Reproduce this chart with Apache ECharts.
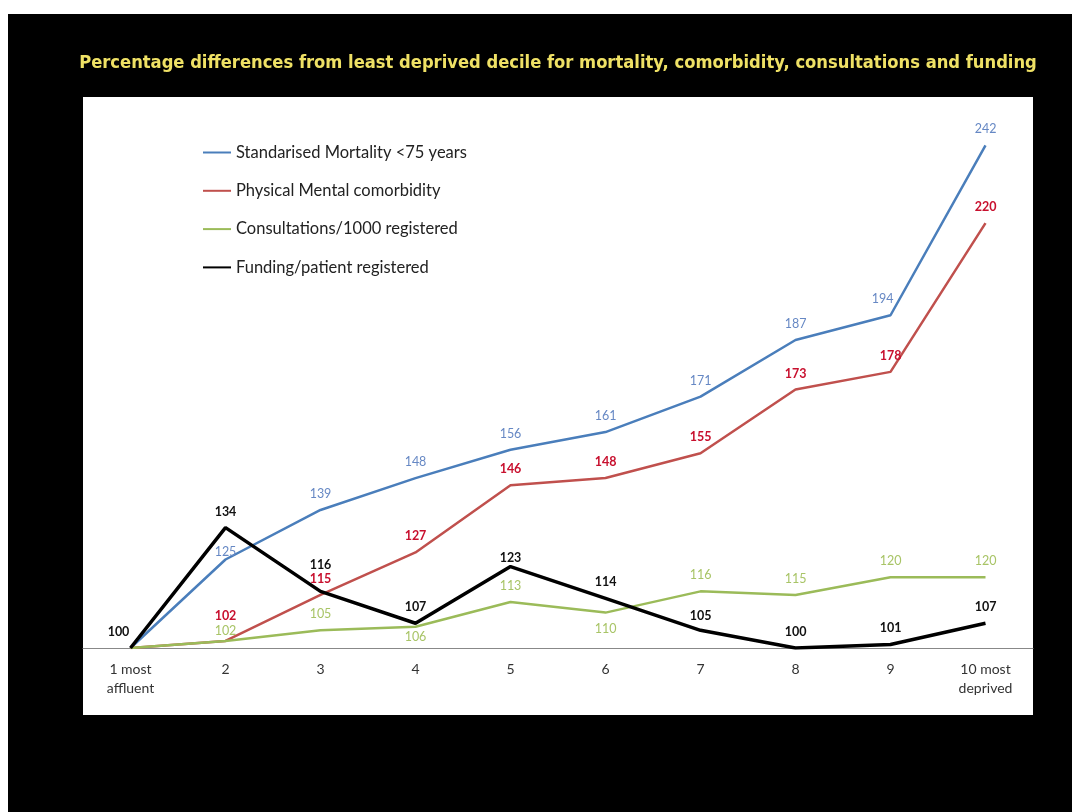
<!DOCTYPE html>
<html>
	<head>
		<meta charset="utf-8">
		<title></title>
		<style type="text/css">
			* {
				margin: 0;
				padding: 0;
			}

			#main {
				width: 1072px;
				height: 812px;
			}
		</style>
		<script src="https://cdn.jsdelivr.net/npm/echarts@6/dist/echarts.min.js"></script>
	</head>
	<body>
		<div id="main"></div>
	</body>
	<script type="text/javascript">
		// 数据
		var deciles = ['1 most\naffluent', '2', '3', '4', '5', '6', '7', '8', '9', '10 most\ndeprived'];
		var mortality = [100, 125, 139, 148, 156, 161, 171, 187, 194, 242];
		var comorbidity = [100, 102, 115, 127, 146, 148, 155, 173, 178, 220];
		var consultations = [100, 102, 105, 106, 113, 110, 116, 115, 120, 120];
		var funding = [100, 134, 116, 107, 123, 114, 105, 100, 101, 107];

		var chart = echarts.init(document.getElementById('main'));

		// 标签位置微调
		function points(values, color, bold, tweak) {
			return values.map(function(v, i) {
				var lab = { show: i > 0, color: color, fontWeight: bold ? 'bold' : 'normal' };
				if (tweak && tweak[i]) {
					for (var k in tweak[i]) lab[k] = tweak[i][k];
				}
				return { value: v, label: lab };
			});
		}

		function line(name, values, color, width, labelColor, bold, tweak) {
			return {
				name: name,
				type: 'line',
				symbol: 'circle',
				symbolSize: 1,
				showSymbol: true,
				data: points(values, labelColor, bold, tweak),
				lineStyle: { color: color, width: width },
				itemStyle: { color: 'rgba(0,0,0,0)', borderWidth: 0 },
				label: {
					show: true,
					position: 'top',
					distance: 9,
					fontFamily: 'Lato',
					fontSize: 12.5
				}
			};
		}

		var option = {
			backgroundColor: '#fff',
			animation: false,
			graphic: [
				{ type: 'rect', z: -10, shape: { x: 8, y: 14, width: 1064, height: 798 }, style: { fill: '#000' } },
				{ type: 'rect', z: -9, shape: { x: 83, y: 97, width: 950, height: 618 }, style: { fill: '#fff' } }
			],
			title: {
				text: 'Percentage differences from least deprived decile for mortality, comorbidity, consultations and funding',
				left: 553,
				textAlign: 'center',
				top: 49,
				textStyle: {
					color: '#EFE165',
					fontFamily: 'DejaVu Sans Condensed',
					fontWeight: 'bold',
					fontSize: 18.2
				}
			},
			legend: {
				orient: 'vertical',
				left: 197,
				top: 139,
				itemWidth: 28,
				itemHeight: 14,
				itemGap: 21.3,
				textStyle: { color: '#222', fontFamily: 'Lato', fontSize: 16.5 },
				data: ['Standarised Mortality <75 years', 'Physical Mental comorbidity', 'Consultations/1000 registered', 'Funding/patient registered']
			},
			grid: {
				left: 83,
				right: 39,
				top: 117,
				bottom: 164
			},
			xAxis: {
				type: 'category',
				data: deciles,
				boundaryGap: true,
				axisLine: { lineStyle: { color: '#888', width: 1 } },
				axisTick: { show: false },
				axisLabel: { color: '#333', fontFamily: 'Lato', fontSize: 14, lineHeight: 19, margin: 12, interval: 0 }
			},
			yAxis: {
				type: 'value',
				min: 100,
				max: 250,
				show: false,
				splitLine: { show: false }
			},
			series: [
				line('Standarised Mortality <75 years', mortality, '#4A7EBB', 2.5, '#6688c4', false, {
					1: { distance: 1 },
					8: { offset: [-8, 0] }
				}),
				line('Physical Mental comorbidity', comorbidity, '#C0504D', 2.5, '#c8102e', true, { 1: { distance: 18 } }),
				line('Consultations/1000 registered', consultations, '#9BBB59', 2.5, '#a8c466', false, {
					1: { distance: 3 },
					3: { position: 'bottom', distance: 3 },
					5: { position: 'bottom', distance: 9 }
				}),
				line('Funding/patient registered', funding, '#000', 3.5, '#111', true, {
					0: { show: true, offset: [-12, 0] },
					2: { distance: 19 },
					4: { distance: 2 },
					6: { distance: 7 }
				})
			]
		};

		chart.setOption(option);
	</script>
</html>
